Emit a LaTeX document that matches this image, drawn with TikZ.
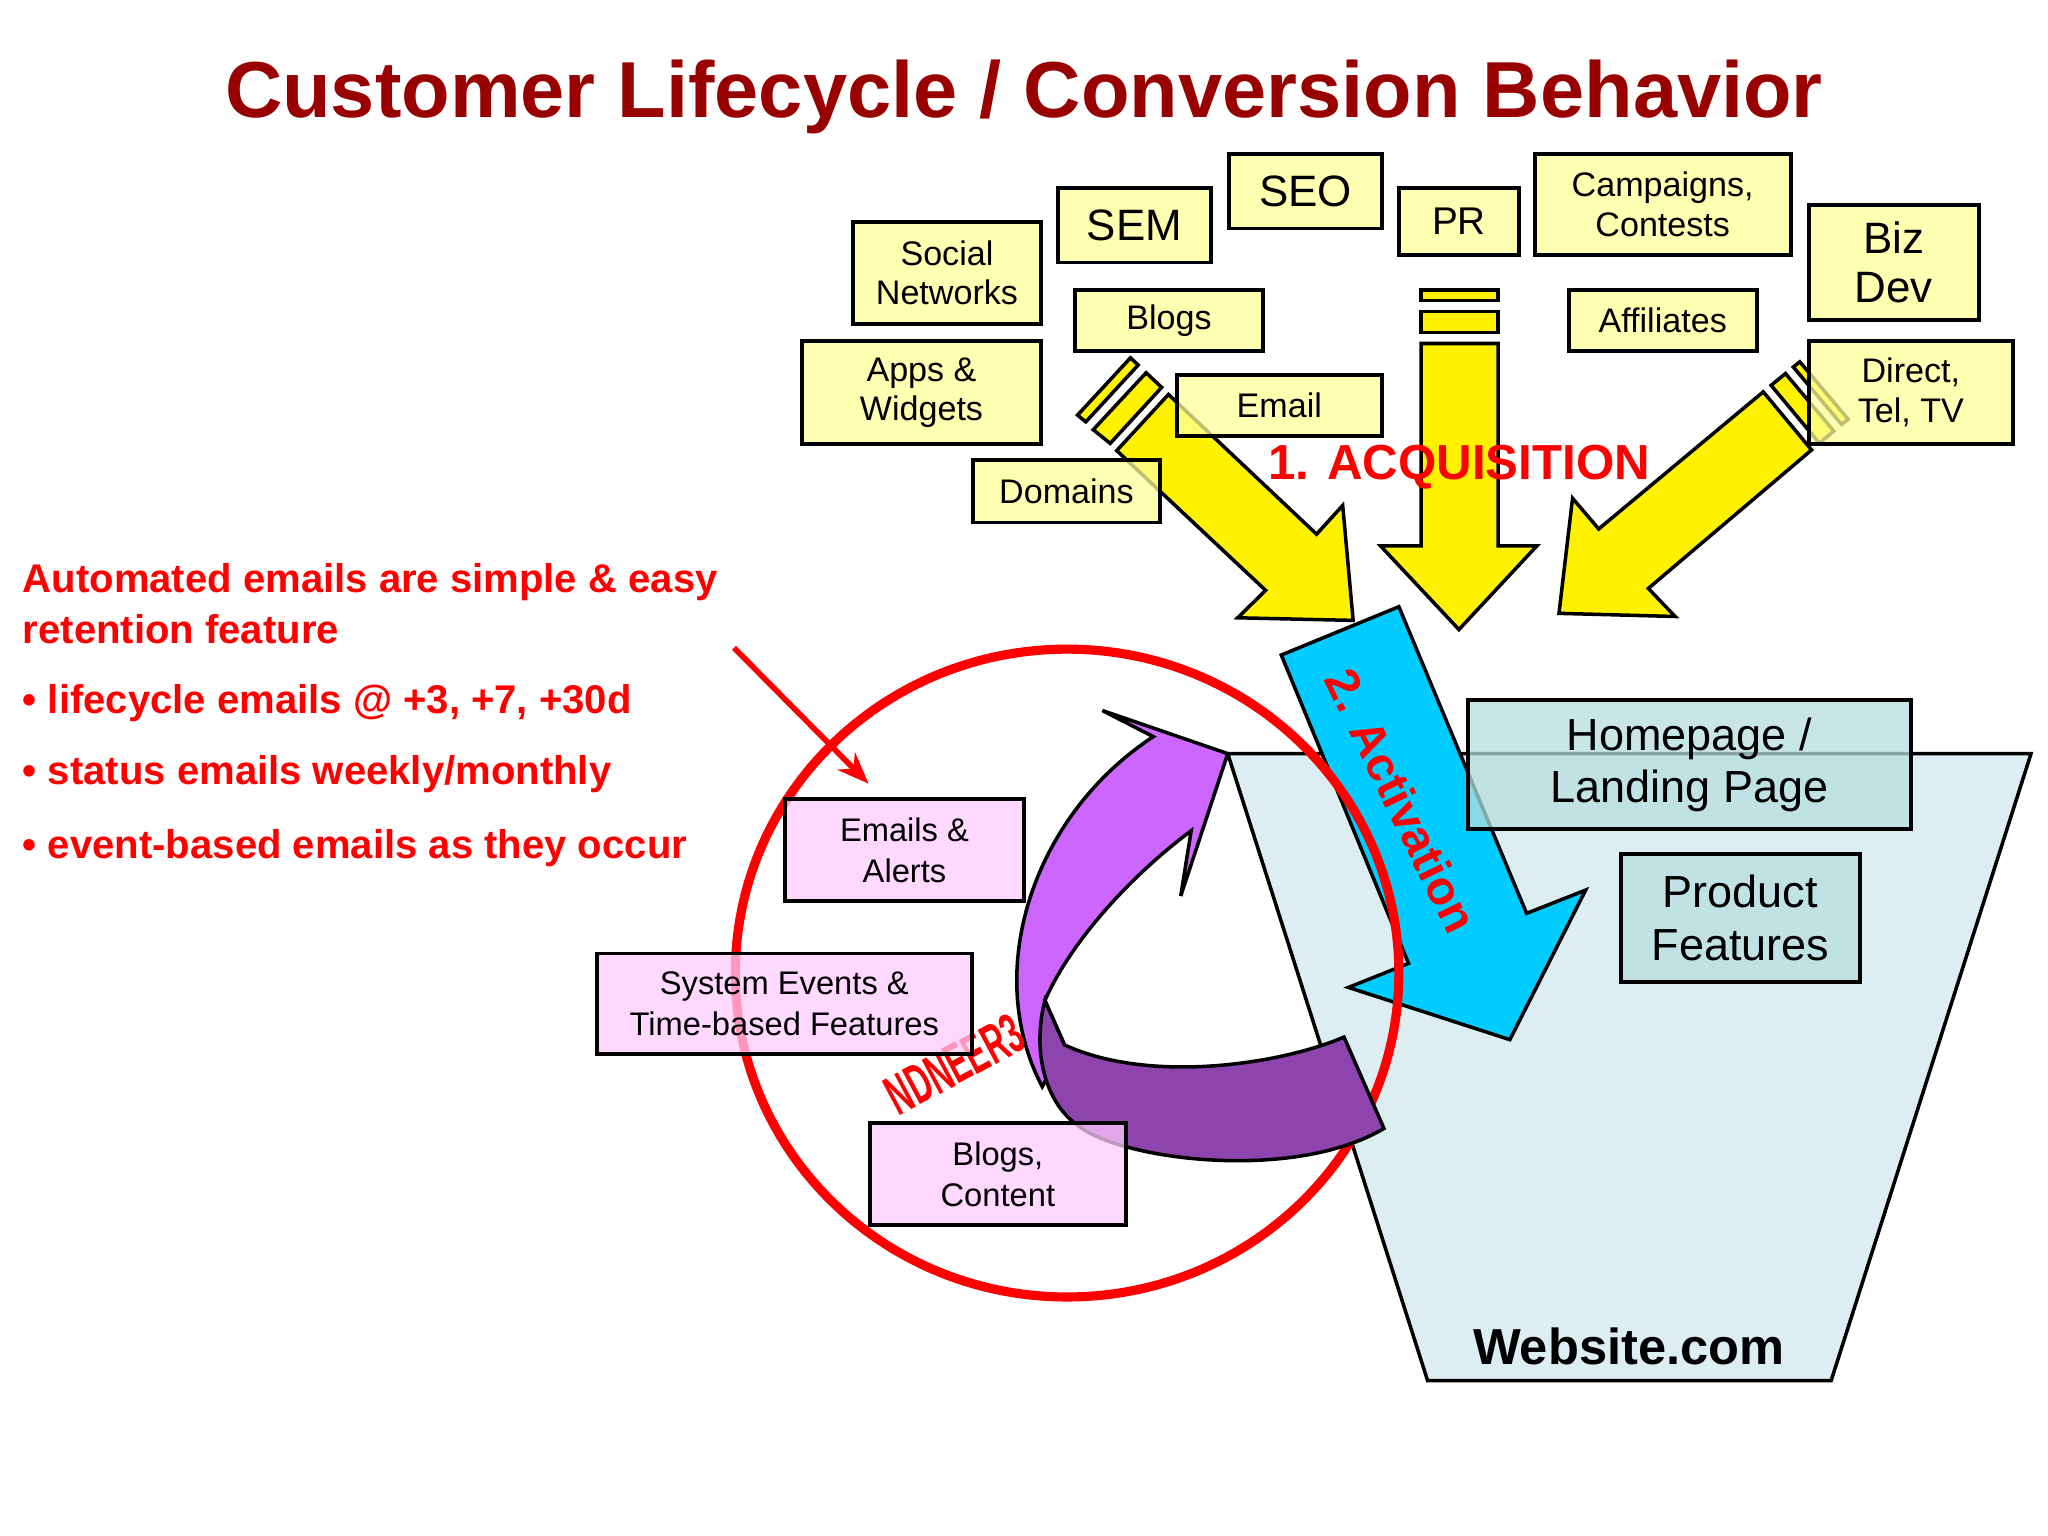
\documentclass[tikz,border=0pt]{standalone}
\usepackage{fontspec}
\setmainfont{Liberation Sans}
\usetikzlibrary{arrows.meta}
\definecolor{titlered}{HTML}{990000}
\definecolor{boxyellow}{HTML}{FFFF99}
\definecolor{boxteal}{HTML}{B8DEDE}
\definecolor{funnelblue}{HTML}{DCEEF1}
\definecolor{boxpink}{HTML}{FFCCFF}
\definecolor{actcyan}{HTML}{00CCFF}
\definecolor{lightviolet}{HTML}{CC66FF}
\definecolor{darkviolet}{HTML}{8E44AD}
\tikzset{
  box/.style={draw, line width=1.1pt, inner sep=0pt, align=center, fill opacity=0.75, text opacity=1},
  ybox/.style={box, fill=boxyellow, font=\fontsize{9.7}{11.2}\selectfont},
  bigy/.style={ybox, font=\fontsize{12.5}{14}\selectfont},
  tbox/.style={box, fill=boxteal, font=\fontsize{12.8}{15}\selectfont},
  pbox/.style={box, fill=boxpink, font=\fontsize{9.3}{11.5}\selectfont},
  shape arrow/.style={draw, line width=1pt, line join=miter},
  redtext/.style={text=red, font=\bfseries\fontsize{11.4}{13}\selectfont, anchor=west}
}
\begin{document}
\begin{tikzpicture}[x=0.013061cm, y=-0.013061cm]
\useasboundingbox (0,0) rectangle (1568,1176);
\fill[white] (0,0) rectangle (1568,1176);

% title
\node[text=titlered, font=\bfseries\fontsize{22.6}{26}\selectfont] (title) at (784,74) {Customer Lifecycle / Conversion Behavior};

% funnel
\draw[fill=funnelblue, line width=1pt] (940,577) -- (1555,577) -- (1402,1057) -- (1093,1057) -- cycle;
\node[font=\bfseries\fontsize{14.4}{16}\selectfont] (site) at (1247,1031) {Website.com};

% yellow acquisition arrows
\draw[shape arrow, fill=yellow] (855,345) -- (894.6,302) -- (1008,409) -- (1028,387) -- (1036,475) -- (947.6,473) -- (969,452) -- cycle;
\draw[shape arrow, fill=yellow] (865.5,274) -- (871.4,279.5) -- (831.3,323) -- (825,317.8) -- cycle;
\draw[shape arrow, fill=yellow] (877.5,285.4) -- (889.4,296.6) -- (850,339.5) -- (837,329) -- cycle;
\draw[shape arrow, fill=yellow] (1088,263) -- (1147,263) -- (1147,418) -- (1176.6,418) -- (1117,482) -- (1057,418) -- (1088,418) -- cycle;
\draw[shape arrow, fill=yellow] (1088,222) rectangle (1147,230);
\draw[shape arrow, fill=yellow] (1088,238.5) rectangle (1147,254.7);
\draw[shape arrow, fill=yellow] (1350,300) -- (1387,344.5) -- (1262,450.5) -- (1282.5,472) -- (1193.6,469.6) -- (1204,381.5) -- (1224,405) -- cycle;
\draw[shape arrow, fill=yellow] (1356,295) -- (1393,339.4) -- (1404,330) -- (1367,286) -- cycle;
\draw[shape arrow, fill=yellow] (1373,281) -- (1410,325) -- (1415,321) -- (1378,277) -- cycle;

% channel boxes
\node[ybox, minimum width=1.881cm, minimum height=1.019cm] (social) at (725,209) {Social\\Networks};
\node[bigy, minimum width=1.528cm, minimum height=0.744cm] (sem) at (868.5,172.5) {SEM};
\node[bigy, minimum width=1.528cm, minimum height=0.744cm] (seo) at (999.5,146.5) {SEO};
\node[ybox, font=\fontsize{11}{13}\selectfont, minimum width=1.202cm, minimum height=0.666cm] (pr) at (1117,169.5) {PR};
\node[ybox, minimum width=2.56cm, minimum height=1.006cm] (camp) at (1273,156.5) {Campaigns,\\Contests};
\node[bigy, minimum width=1.698cm, minimum height=1.149cm] (biz) at (1450,201) {Biz\\Dev};
\node[ybox, minimum width=1.881cm, minimum height=0.614cm] (blogs) at (895,245.5) {Blogs};
\node[ybox, minimum width=1.881cm, minimum height=0.614cm] (aff) at (1273,245.5) {Affiliates};
\node[ybox, minimum width=2.39cm, minimum height=1.032cm] (apps) at (705.5,300.5) {Apps \&\\Widgets};
\node[ybox, minimum width=2.05cm, minimum height=0.614cm] (email) at (979.5,310.5) {Email};
\node[ybox, minimum width=2.037cm, minimum height=1.032cm] (direct) at (1463,300.5) {Direct,\\Tel, TV};
\node[ybox, minimum width=1.868cm, minimum height=0.627cm] (domains) at (816.5,376) {Domains};

\node[text=red, font=\bfseries\fontsize{14}{16}\selectfont] (acq) at (1117,358) {1. ACQUISITION};

% activation arrow
\draw[shape arrow, fill=actcyan] (981,501.5) -- (1071,464.5) -- (1168.8,699.3) -- (1214,681.5) -- (1156,796) -- (1032.4,756) -- (1078.4,737.6) -- cycle;

% retention circle
\draw[red, line width=2.6pt] (817,745) ellipse [x radius=254, y radius=248];

% site boxes
\node[tbox, minimum width=4.428cm, minimum height=1.293cm] (home) at (1293.5,585.5) {Homepage /\\Landing Page};
\node[tbox, minimum width=2.39cm, minimum height=1.28cm] (prod) at (1332.5,703) {Product\\Features};

\node[text=red, rotate=-64, font=\bfseries\fontsize{13.5}{15}\selectfont] (act) at (1073,613) {2. Activation};

% retention loop arrows
\draw[shape arrow, fill=lightviolet] (940,577) -- (904,686) -- (912,636)
  .. controls (860,675) and (818,725) .. (800,766) -- (815,800) -- (798,832)
  .. controls (752,745) and (790,625) .. (883,564) -- (844,544) -- cycle;
\draw[shape arrow, fill=darkviolet] (800,766) .. controls (790,805) and (800,845) .. (826.6,862.7)
  .. controls (860,888) and (990,905) .. (1059.6,864) -- (1029,794)
  .. controls (980,815) and (880,830) .. (815,800) -- cycle;

\node[text=red, rotate=28, font=\bfseries\fontsize{16}{18}\selectfont] (tier) at (731,815) {\scalebox{0.55}[1]{NDNEER3}};

% retention boxes
\node[pbox, minimum width=2.39cm, minimum height=1.019cm] (alerts) at (692.5,651) {Emails \&\\Alerts};
\node[pbox, minimum width=3.749cm, minimum height=1.006cm] (sys) at (600.5,768.5) {System Events \&\\Time-based Features};
\node[pbox, minimum width=2.56cm, minimum height=1.019cm] (content) at (764,899) {Blogs,\\Content};

% notes
\node[redtext] (n1) at (8,446) {Automated emails are simple \& easy};
\node[redtext] (n2) at (8,482) {retention feature};
\node[redtext] (n3) at (8,538) {\textbullet\ lifecycle emails @ +3, +7, +30d};
\node[redtext] (n4) at (8,593) {\textbullet\ status emails weekly/monthly};
\node[redtext] (n5) at (8,649) {\textbullet\ event-based emails as they occur};
\coordinate (pt) at (562,496);
\coordinate (tgt) at (665,600);
\draw[red, line width=1.6pt, -{Stealth[length=9pt,width=7pt]}] (pt) -- (tgt);
\end{tikzpicture}
\end{document}
